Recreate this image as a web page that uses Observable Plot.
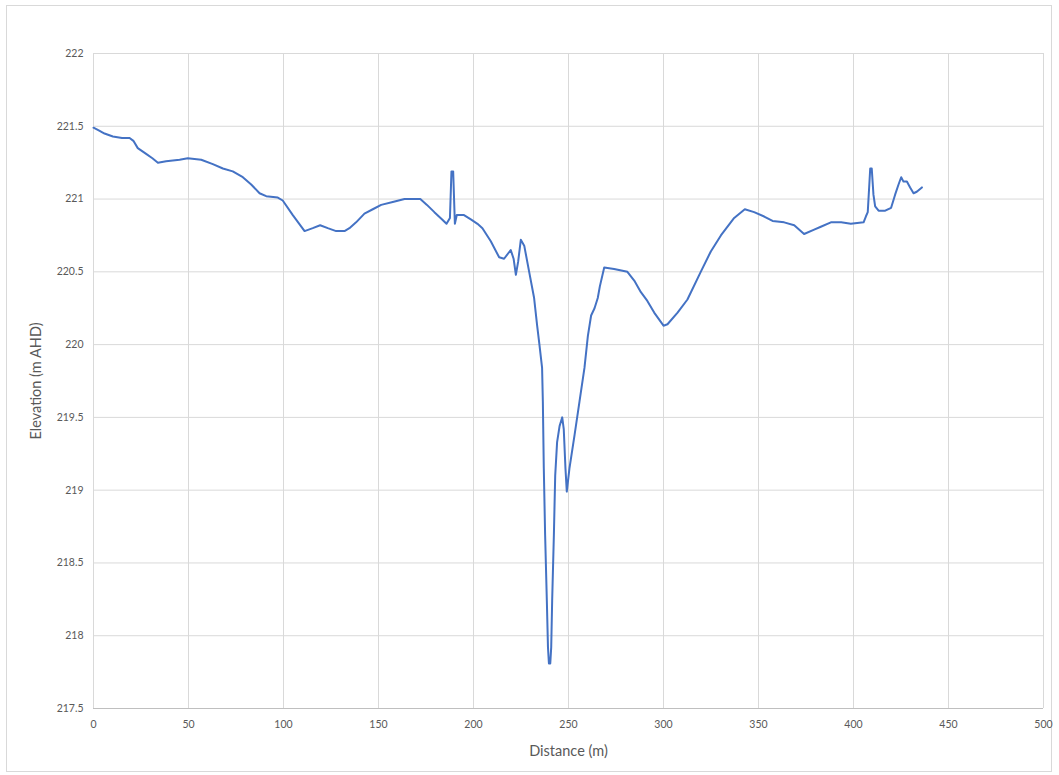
<!DOCTYPE html>
<html>
<head>
<meta charset="utf-8">
<script src="https://cdn.jsdelivr.net/npm/d3@7"></script>
<script src="https://cdn.jsdelivr.net/npm/@observablehq/plot@0.6"></script>
<style>
  html, body { margin: 0; padding: 0; background: #fff; }
  #wrap { position: relative; width: 1059px; height: 775px; }
  #frame { position: absolute; left: 6px; top: 5px; width: 1046px; height: 767px; border: 1px solid #d9d9d9; box-sizing: border-box; pointer-events: none; }
  svg { font-family: Lato, "Open Sans", sans-serif; }
</style>
</head>
<body>
<div id="wrap"><div id="frame"></div></div>
<script>
const distance = [0,3,5.8,10.2,15,19,21,23.3,27.7,31,33.9,38.2,45.3,49.6,56.7,62.8,68.1,73.3,78.6,83,87.4,90.9,97.0,99.6,104.9,111.1,115.4,119.3,123.3,127.7,132.1,134.7,138.2,142.6,147,151.4,157.5,163.7,172,175.5,179.4,183.5,185.8,187.6,188.4,189.3,190.2,191.2,195,198.6,202.1,204.7,209.1,213.5,216.1,219.6,221.1,222.3,223.5,224.9,226.7,229.3,231.9,233.5,234.7,236.1,236.5,237,237.7,238.6,239.2,239.7,240.4,240.9,241.4,242.3,243,244,245.3,246.7,247.5,248.4,249.1,250.5,253.2,255.8,258.4,260.2,261.9,263.7,265.4,266.5,268.8,274,281,284.6,288.1,291.5,295.1,300,302.1,307.4,312.6,319.6,324.9,330.2,337.2,342.8,347.7,353,357.4,363.5,368.8,374,379.3,382.8,388.1,393.5,398.6,405.3,406.5,407.5,408.8,409.6,410.5,411.4,413.2,416.7,419.8,421.9,423.7,425.1,426.3,428.1,429.8,431.6,433.3,436];
const elevation = [221.49,221.47,221.45,221.43,221.42,221.42,221.40,221.35,221.31,221.28,221.25,221.26,221.27,221.28,221.27,221.24,221.21,221.19,221.15,221.10,221.04,221.02,221.01,220.99,220.89,220.78,220.80,220.82,220.80,220.78,220.78,220.80,220.84,220.90,220.93,220.96,220.98,221.00,221.00,220.96,220.91,220.86,220.83,220.87,221.19,221.19,220.83,220.89,220.89,220.86,220.83,220.80,220.71,220.60,220.59,220.65,220.59,220.48,220.57,220.72,220.68,220.50,220.32,220.13,220.00,219.84,219.61,219.15,218.69,218.24,217.92,217.81,217.81,217.92,218.24,218.69,219.10,219.33,219.44,219.50,219.42,219.15,218.99,219.15,219.38,219.61,219.84,220.06,220.20,220.25,220.32,220.40,220.53,220.52,220.50,220.44,220.36,220.30,220.22,220.13,220.14,220.22,220.31,220.50,220.64,220.75,220.87,220.93,220.91,220.88,220.85,220.84,220.82,220.76,220.79,220.81,220.84,220.84,220.83,220.84,220.88,220.91,221.21,221.21,221.03,220.95,220.92,220.92,220.94,221.03,221.10,221.15,221.12,221.12,221.08,221.04,221.05,221.08];
const xTicks = [0,50,100,150,200,250,300,350,400,450,500];
const yTicks = [217.5,218,218.5,219,219.5,220,220.5,221,221.5,222];

const data = distance.map((d, i) => ({distance: d, elevation: elevation[i]}));

const chart = Plot.plot({
  width: 1059,
  height: 775,
  marginLeft: 93,
  marginRight: 16,
  marginTop: 53,
  marginBottom: 67,
  style: {background: "transparent", fontSize: "11px", color: "#595959"},
  x: {domain: [0, 500]},
  y: {domain: [217.5, 222]},
  marks: [
    Plot.gridX(xTicks, {stroke: "#d9d9d9", strokeOpacity: 1, strokeWidth: 1}),
    Plot.gridY(yTicks, {stroke: "#d9d9d9", strokeOpacity: 1, strokeWidth: 1}),
    Plot.ruleY([217.5], {stroke: "#bfbfbf", strokeWidth: 1}),
    Plot.axisX(xTicks, {tickSize: 0, tickPadding: 12, fill: "#595959", fontSize: 10.5, label: null}),
    Plot.axisX({tickSize: 0, ticks: [], label: "Distance (m)", labelAnchor: "center", labelArrow: "none", labelOffset: 47, fontSize: 14.5, fill: "#595959"}),
    Plot.axisY(yTicks, {tickSize: 0, tickPadding: 10, fill: "#595959", fontSize: 10.5, tickFormat: d => String(d), label: null}),
    Plot.axisY({tickSize: 0, ticks: [], label: "Elevation (m AHD)", labelAnchor: "center", labelArrow: "none", labelOffset: 63, fontSize: 14.5, fill: "#595959"}),
    Plot.line(data, {x: "distance", y: "elevation", stroke: "#4472c4", strokeWidth: 2, curve: "linear"})
  ]
});
document.getElementById("wrap").appendChild(chart);
chart.style.position = "absolute";
chart.style.left = "0px";
chart.style.top = "0px";
</script>
</body>
</html>
